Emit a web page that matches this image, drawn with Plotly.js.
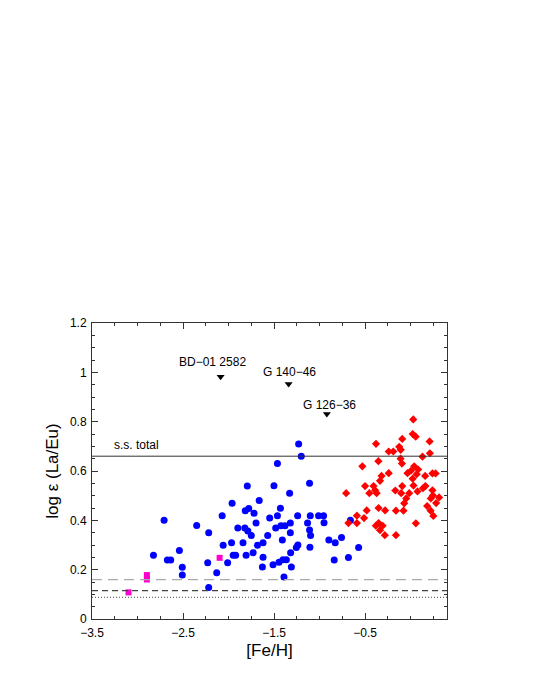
<!DOCTYPE html>
<html>
<head>
<meta charset="utf-8">
<script src="https://cdn.plot.ly/plotly-3.0.1.min.js"></script>
<style>html,body{margin:0;padding:0;background:#fff;}#chart{width:540px;height:699px;}</style>
</head>
<body>
<div id="chart"></div>
<script>
// Blue circles
const blueFe = [-2.825,-2.708,-2.672,-2.635,-2.540,-2.508,-2.508,-2.350,-2.218,-2.229,-2.218,-2.130,-2.070,-2.059,-2.010,-1.961,-1.967,-1.949,-1.922,-1.898,-1.841,-1.821,-1.788,-1.816,-1.794,-1.778,-1.750,-1.807,-1.730,-1.720,-1.698,-1.682,-1.663,-1.621,-1.628,-1.621,-1.570,-1.548,-1.511,-1.501,-1.482,-1.463,-1.463,-1.446,-1.430,-1.424,-1.409,-1.402,-1.391,-1.380,-1.365,-1.329,-1.321,-1.321,-1.318,-1.310,-1.241,-1.238,-1.255,-1.230,-1.201,-1.110,-1.102,-1.132,-1.110,-1.099,-1.106,-1.011,-0.956,-0.951,-0.898,-0.828,-0.759,-0.839,-0.683,-0.661,-0.571];
const blueLaEu = [0.258,0.400,0.239,0.239,0.278,0.210,0.178,0.379,0.350,0.228,0.128,0.188,0.419,0.299,0.228,0.469,0.309,0.258,0.258,0.369,0.309,0.369,0.357,0.439,0.539,0.448,0.339,0.258,0.269,0.429,0.389,0.299,0.480,0.309,0.211,0.250,0.339,0.409,0.220,0.540,0.369,0.419,0.630,0.230,0.449,0.378,0.320,0.240,0.170,0.378,0.240,0.510,0.389,0.350,0.269,0.211,0.419,0.300,0.290,0.709,0.660,0.550,0.419,0.389,0.361,0.339,0.291,0.419,0.419,0.390,0.320,0.309,0.330,0.239,0.249,0.400,0.290];
// Red diamonds
const redFe = [0.029,0.023,0.056,-0.380,-0.092,0.209,-0.240,-0.190,-0.125,-0.108,-0.110,-0.095,0.131,0.212,-0.354,-0.530,-0.034,0.004,0.040,0.067,0.083,0.160,0.240,0.275,-0.240,-0.319,-0.336,0.023,-0.500,-0.407,-0.390,-0.168,-0.092,0.032,0.136,0.163,-0.708,-0.453,-0.373,-0.103,-0.015,0.076,0.240,0.245,0.313,-0.048,-0.070,0.182,0.281,-0.352,-0.280,-0.482,-0.161,-0.078,0.220,0.250,-0.590,-0.511,-0.590,-0.683,0.058,-0.351,-0.382,-0.307,-0.336,-0.283,-0.161,0.222];
const redLaEu = [0.809,0.750,0.739,0.710,0.730,0.720,0.679,0.679,0.698,0.686,0.650,0.630,0.658,0.672,0.640,0.619,0.591,0.601,0.619,0.587,0.606,0.580,0.590,0.590,0.591,0.580,0.560,0.569,0.539,0.539,0.522,0.521,0.539,0.541,0.530,0.539,0.510,0.510,0.510,0.510,0.510,0.517,0.522,0.501,0.493,0.489,0.469,0.458,0.470,0.450,0.440,0.440,0.439,0.439,0.439,0.418,0.419,0.409,0.389,0.389,0.388,0.389,0.378,0.378,0.360,0.340,0.340,0.489];
// Magenta squares
const magFe = [-3.099,-2.897,-2.897,-2.098];
const magLaEu = [0.108,0.178,0.160,0.248];
// Labelled stars (down triangles)
const starNames = ["BD\u221201 2582","G 140\u221246","G 126\u221236"];
const starFe = [-2.087,-1.340,-0.920];
const starLaEu = [0.982,0.953,0.831];
// Reference levels
const ssTotal = 0.66;
const levelLongDash = 0.16;
const levelDash = 0.115;
const levelDot = 0.088;
const xTickVals = [-3.5,-2.5,-1.5,-0.5];
const xTickText = ["\u22123.5","\u22122.5","\u22121.5","\u22120.5"];
const yTickVals = [0,0.2,0.4,0.6,0.8,1,1.2];
const yTickText = ["0","0.2","0.4","0.6","0.8","1","1.2"];

const xr = [-3.5, 0.4];
const font = "Liberation Sans, Arial, Helvetica, sans-serif";

const traces = [
  {x: blueFe, y: blueLaEu, mode: 'markers', type: 'scatter',
   marker: {symbol: 'circle', size: 7, color: '#0000ff'}},
  {x: redFe, y: redLaEu, mode: 'markers', type: 'scatter',
   marker: {symbol: 'diamond', size: 6.3, color: '#ff0000'}},
  {x: magFe, y: magLaEu, mode: 'markers', type: 'scatter',
   marker: {symbol: 'square', size: 6, color: '#ff00cc'}},
  {x: starFe, y: starLaEu, mode: 'markers', type: 'scatter',
   marker: {symbol: 'triangle-down', size: 7, color: '#000000'}}
];

const shapes = [
  {type:'line', xref:'x', yref:'y', x0:xr[0], x1:xr[1], y0:ssTotal, y1:ssTotal, line:{color:'#333', width:1}},
  {type:'line', xref:'x', yref:'y', x0:xr[0], x1:xr[1], y0:levelLongDash, y1:levelLongDash, line:{color:'#aaaaaa', width:1.2, dash:'10px,6px'}},
  {type:'line', xref:'x', yref:'y', x0:xr[0], x1:xr[1], y0:levelDash, y1:levelDash, line:{color:'#444', width:1.2, dash:'6px,4px'}},
  {type:'line', xref:'x', yref:'y', x0:xr[0], x1:xr[1], y0:levelDot, y1:levelDot, line:{color:'#444', width:1, dash:'1px,2px'}}
];

const starShift = [[-8,15],[1,12],[3,9]];
const annotations = starNames.map((n,i)=>({
  x: starFe[i], y: starLaEu[i], xref:'x', yref:'y', text: n, showarrow:false,
  xshift: starShift[i][0], yshift: starShift[i][1], font:{family:font, size:12, color:'#000'}
}));
annotations.push({x: -3.28, y: ssTotal, xref:'x', yref:'y', text:'s.s. total', showarrow:false,
  xanchor:'left', yanchor:'bottom', yshift:2, font:{family:font, size:12, color:'#000'}});

const axisCommon = {
  showline:true, linecolor:'#333', linewidth:1, mirror:'ticks', ticks:'inside',
  ticklen:6, tickwidth:1, tickcolor:'#333', showgrid:false, zeroline:false,
  tickfont:{family:font, size:12, color:'#000'}
};

const layout = {
  width:540, height:699, paper_bgcolor:'#fff', plot_bgcolor:'#fff',
  margin:{l:92, r:93, t:323, b:80}, showlegend:false,
  xaxis: Object.assign({}, axisCommon, {
    range: xr, tickvals: xTickVals, ticktext: xTickText, ticklabelstandoff: 3,
    minor:{dtick:0.25, tick0:-3.5, ticks:'inside', ticklen:3, tickcolor:'#333', showgrid:false},
    title:{text:'[Fe/H]', font:{family:font, size:17, color:'#000'}, standoff:4}
  }),
  yaxis: Object.assign({}, axisCommon, {
    range:[0,1.2], tickvals: yTickVals, ticktext: yTickText, ticklabelstandoff: 2,
    minor:{dtick:0.05, tick0:0, ticks:'inside', ticklen:3, tickcolor:'#333', showgrid:false},
    title:{text:'log \u03b5 (La/Eu)', font:{family:font, size:17, color:'#000'}, standoff:6}
  }),
  shapes: shapes, annotations: annotations
};

Plotly.newPlot('chart', traces, layout, {displayModeBar:false, staticPlot:true});
</script>
</body>
</html>
